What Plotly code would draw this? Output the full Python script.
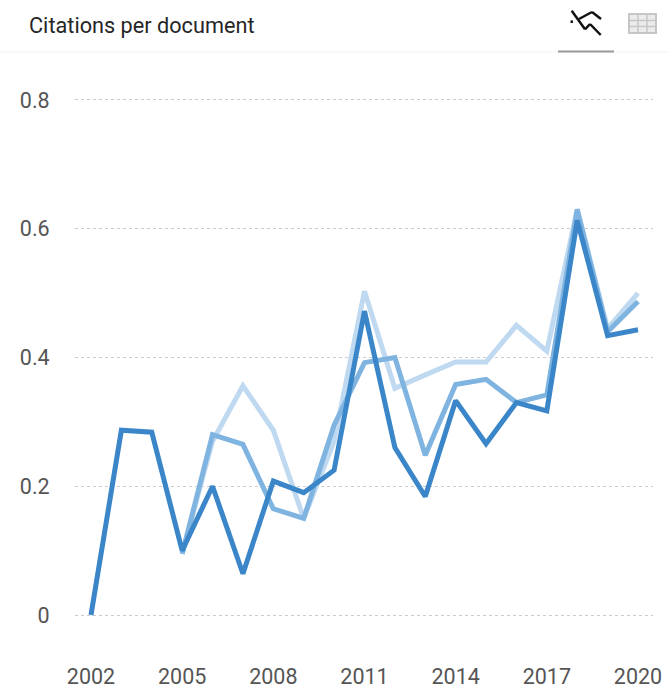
import plotly.graph_objects as go

years = list(range(2002, 2021))
light = [None, None, None, 0.095, 0.27, 0.356, 0.287, 0.15, 0.27, 0.503, 0.352, 0.373, 0.393, 0.393, 0.45, 0.41, 0.63, 0.445, 0.5]
medium = [None, None, None, 0.095, 0.28, 0.265, 0.165, 0.15, 0.295, 0.392, 0.4, 0.248, 0.358, 0.366, 0.33, 0.342, 0.63, 0.44, 0.487]
dark = [0, 0.287, 0.284, 0.1, 0.2, 0.064, 0.208, 0.19, 0.225, 0.472, 0.26, 0.184, 0.333, 0.266, 0.33, 0.317, 0.613, 0.434, 0.443]
y_ticks = [0, 0.2, 0.4, 0.6, 0.8]
y_labels = ["0", "0.2", "0.4", "0.6", "0.8"]
x_ticks = list(range(2002, 2021, 3))
title_text = "Citations per document"

W, H = 669, 697
L, R, T, B = 75, 16, 90, 72


def px(x):
    return (x - L) / (W - L - R)


def py(y):
    return 1 - (y - T) / (H - T - B)


def seg(x0, y0, x1, y1, color, width):
    return dict(type="line", xref="paper", yref="paper", x0=px(x0), y0=py(y0), x1=px(x1), y1=py(y1),
                line=dict(color=color, width=width), layer="above")


icon = "#111111"
table = "#c6c6c6"
shapes = [
    seg(0, 52, 669, 52, "#f2f2f2", 1),
    seg(558, 51.5, 614, 51.5, "#9a9a9a", 2),
    # trend icon
    seg(571.7, 10.7, 585, 29.3, icon, 2.5),
    seg(585, 29.3, 590, 24, icon, 2.5),
    seg(590, 24, 600.7, 35, icon, 2.5),
    seg(579, 19, 592, 12, icon, 2.5),
    seg(592, 12, 601, 19, icon, 2.5),
    seg(570.5, 21.7, 573, 21.7, icon, 2.5),
    # table icon
    dict(type="rect", xref="paper", yref="paper", x0=px(629), y0=py(14), x1=px(656), y1=py(33),
         fillcolor="#ebebeb", line=dict(color=table, width=2), layer="above"),
]
for gx in (638, 647):
    shapes.append(seg(gx, 14, gx, 33, table, 1.5))
for gy in (20.5, 26.5):
    shapes.append(seg(629, gy, 656, gy, table, 1.5))

fig = go.Figure()
for name, vals, col in [("Light", light, "#bfd9f0"), ("Medium", medium, "#7fb3e0"), ("Dark", dark, "#3a86c8")]:
    fig.add_trace(go.Scatter(x=years, y=vals, mode="lines", name=name, showlegend=False,
                             line=dict(color=col, width=5), connectgaps=False))

fig.update_layout(
    width=W, height=H, autosize=False,
    margin=dict(l=L, r=R, t=T, b=B, pad=0),
    paper_bgcolor="white", plot_bgcolor="white",
    font=dict(family="Roboto", size=21.5, color="#555555"),
    shapes=shapes,
    annotations=[dict(text=title_text, xref="paper", yref="paper", x=px(27), y=py(25), xanchor="left",
                      yanchor="middle", showarrow=False, font=dict(family="Roboto", size=21.7, color="#262626"))],
)
fig.update_xaxes(range=[2001.474, 2020.494], tickmode="array", tickvals=x_ticks, showgrid=False, zeroline=False,
                 showline=False, ticks="outside", ticklen=32, tickcolor="rgba(0,0,0,0)", fixedrange=True,
                 automargin=False)
fig.update_yaxes(range=[-0.01553, 0.8155], tickmode="array", tickvals=y_ticks, ticktext=y_labels, showgrid=True,
                 griddash="dot", gridcolor="#cccccc", gridwidth=1, zeroline=False, showline=False,
                 ticks="outside", ticklen=20, tickcolor="rgba(0,0,0,0)", fixedrange=True, automargin=False)

fig.write_html("out.html", config=dict(displayModeBar=False),
               post_script="document.body.style.margin='0';document.body.style.overflow='hidden';")
